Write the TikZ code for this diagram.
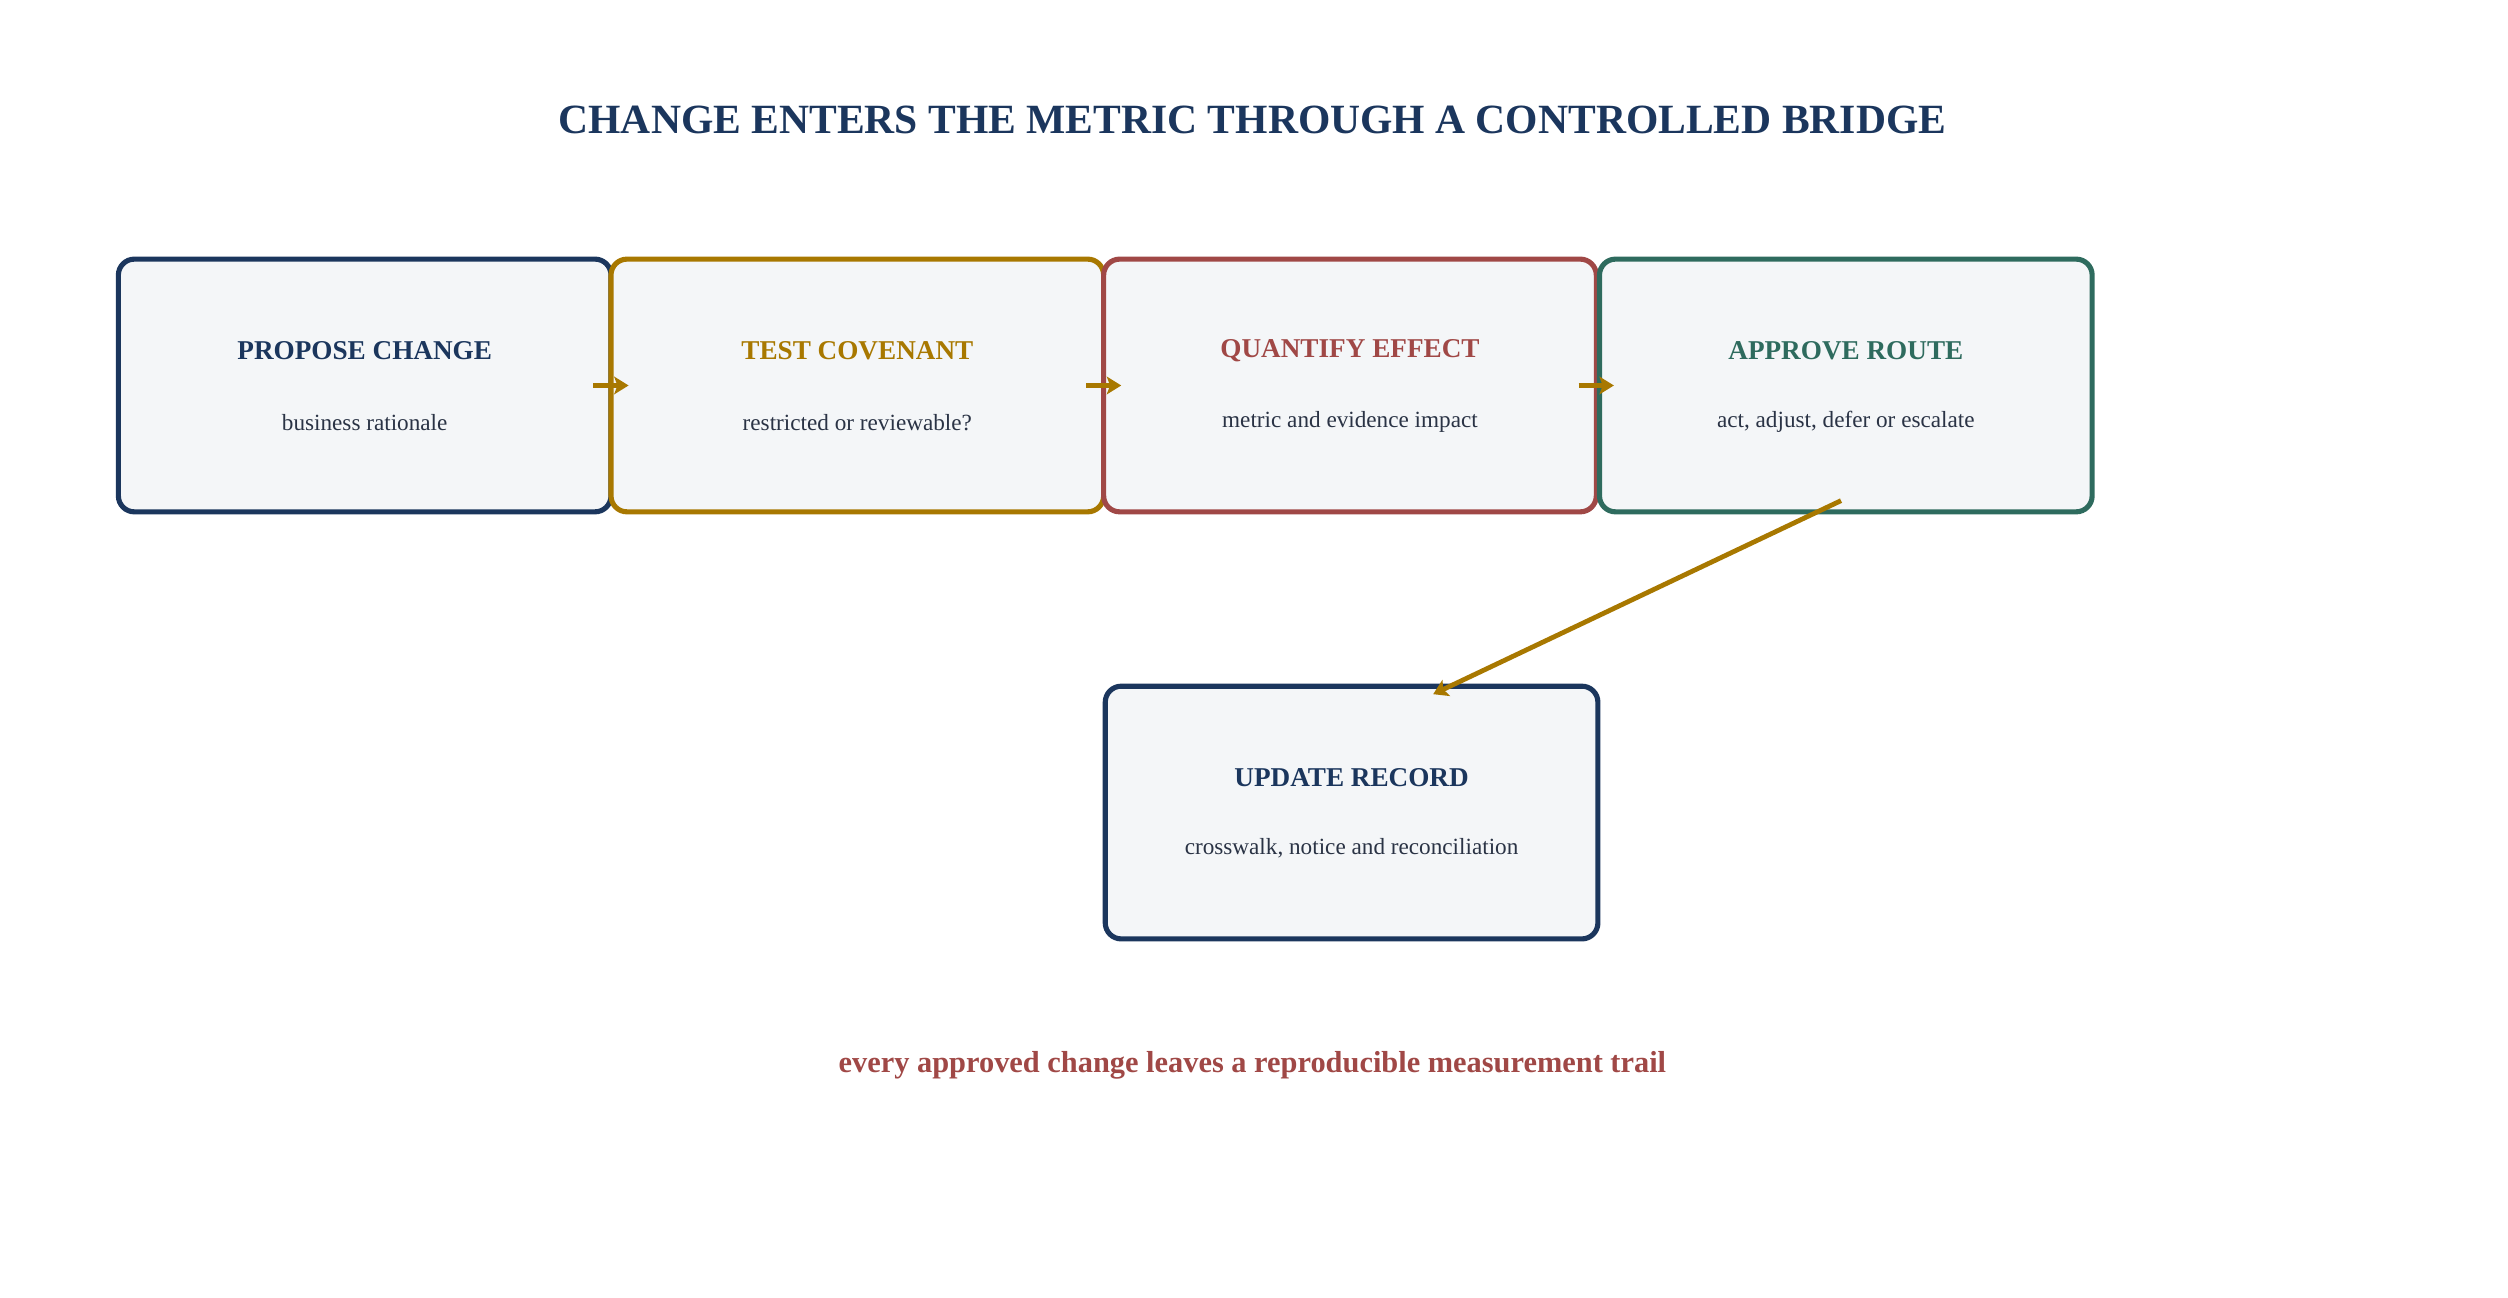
\documentclass[tikz,border=0pt]{standalone}
\usepackage{fontspec}
\setmainfont{Liberation Serif}
\usetikzlibrary{arrows.meta}
\definecolor{navy}{HTML}{1B365D}
\definecolor{gold}{HTML}{A87800}
\definecolor{rust}{HTML}{A04846}
\definecolor{teal}{HTML}{2E6B5E}
\definecolor{boxfill}{HTML}{F4F6F8}
\definecolor{subtxt}{HTML}{2A3345}
\begin{document}
\begin{tikzpicture}[x=1pt,y=-1pt,
  box/.style={draw=#1,line width=3.2pt,fill=boxfill,rounded corners=10pt,minimum width=308pt,minimum height=158pt,inner sep=0pt},
  head/.style={font=\fontsize{17}{20}\selectfont\bfseries,text=#1},
  sub/.style={font=\fontsize{14.5}{17}\selectfont,text=subtxt},
  arr/.style={draw=gold,line width=3pt,-{Stealth[length=9pt,width=11pt,inset=2pt]}}]
\useasboundingbox (0,0) rectangle (1568,811);
\node[font=\fontsize{26}{30}\selectfont\bfseries,text=navy] (title) at (783,75) {CHANGE ENTERS THE METRIC THROUGH A CONTROLLED BRIDGE};
\node[box=navy] (b1) at (228,241) {};
\node[box=gold] (b2) at (536,241) {};
\node[box=rust] (b3) at (844,241) {};
\node[box=teal] (b4) at (1154,241) {};
\node[box=navy] (b5) at (845,508) {};
\node[head=navy] (h1) at (228,219) {PROPOSE CHANGE};
\node[sub] (s1) at (228,264) {business rationale};
\node[head=gold] (h2) at (536,219) {TEST COVENANT};
\node[sub] (s2) at (536,264) {restricted or reviewable?};
\node[head=rust] (h3) at (844,219) {QUANTIFY EFFECT};
\node[sub] (s3) at (844,264) {metric and evidence impact};
\node[head=teal] (h4) at (1154,219) {APPROVE ROUTE};
\node[sub] (s4) at (1154,264) {act, adjust, defer or escalate};
\node[head=navy] (h5) at (845,486) {UPDATE RECORD};
\node[sub] (s5) at (845,530) {crosswalk, notice and reconciliation};
\node[font=\fontsize{19}{22}\selectfont\bfseries,text=rust] (foot) at (783,666) {every approved change leaves a reproducible measurement trail};
\coordinate (a1s) at (371,241); \coordinate (a1e) at (393,241);
\coordinate (a2s) at (679,241); \coordinate (a2e) at (701,241);
\coordinate (a3s) at (987,241); \coordinate (a3e) at (1009,241);
\coordinate (d1) at (1151,313); \coordinate (d2) at (896,434);
\draw[arr] (a1s) -- (a1e);
\draw[arr] (a2s) -- (a2e);
\draw[arr] (a3s) -- (a3e);
\draw[arr] (d1) -- (d2);
\end{tikzpicture}
\end{document}
